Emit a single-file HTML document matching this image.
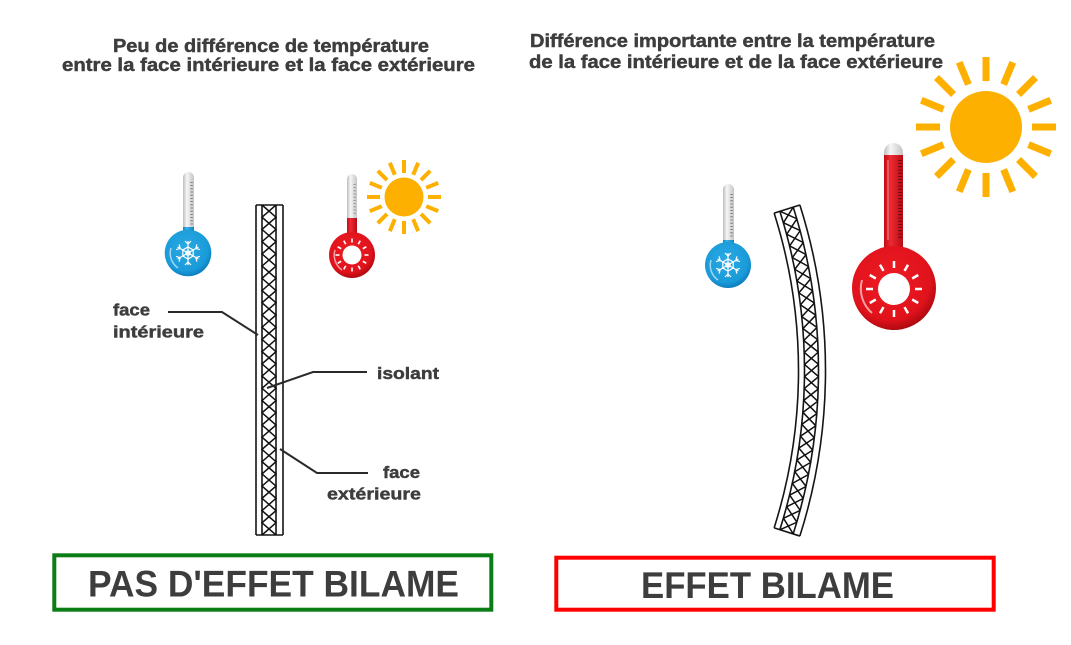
<!DOCTYPE html>
<html><head><meta charset="utf-8"><style>
html,body{margin:0;padding:0;background:#fff;}
svg{display:block;}
text{font-family:"Liberation Sans",sans-serif;font-weight:bold;fill:#3d3d3d;}
.h{stroke:#3d3d3d;stroke-width:0.45;}
</style></head><body>
<svg width="1071" height="645" viewBox="0 0 1071 645" xmlns="http://www.w3.org/2000/svg">
<defs>
<linearGradient id="tubeG" x1="0" x2="1" y1="0" y2="0"><stop offset="0" stop-color="#bcbcbc"/><stop offset="0.35" stop-color="#f6f6f6"/><stop offset="1" stop-color="#c4c4c4"/></linearGradient>
<linearGradient id="tubeR" x1="0" x2="1" y1="0" y2="0"><stop offset="0" stop-color="#c20d16"/><stop offset="0.35" stop-color="#ee2a33"/><stop offset="1" stop-color="#b80c14"/></linearGradient>
<linearGradient id="tubeB" x1="0" x2="1" y1="0" y2="0"><stop offset="0" stop-color="#0f88c8"/><stop offset="0.35" stop-color="#3ab0e6"/><stop offset="1" stop-color="#0d83c3"/></linearGradient>
<radialGradient id="bulbR" cx="0.45" cy="0.4" r="0.6"><stop offset="0" stop-color="#ee1c24"/><stop offset="0.8" stop-color="#e0121b"/><stop offset="1" stop-color="#b00a12"/></radialGradient>
<radialGradient id="bulbB" cx="0.45" cy="0.4" r="0.6"><stop offset="0" stop-color="#2aa9e2"/><stop offset="0.8" stop-color="#1a9bd9"/><stop offset="1" stop-color="#0c7fbf"/></radialGradient>
<path id="cell" d="M804.5,364.43 L818.5,376.57 M818.5,364.43 L804.5,376.57" stroke="#111" stroke-width="1.5" fill="none"/>
<g id="snow" stroke="#fff" stroke-width="1.2" fill="none">
<path d="M0,-12 V12 M-10.4,-6 L10.4,6 M-10.4,6 L10.4,-6"/>
<path d="M-3,-12 L0,-9 L3,-12 M-3,12 L0,9 L3,12 M-11.9,-3.4 L-7.8,-4.5 L-8.9,-8.6 M11.9,3.4 L7.8,4.5 L8.9,8.6 M-11.9,3.4 L-7.8,4.5 L-8.9,8.6 M11.9,-3.4 L7.8,-4.5 L8.9,-8.6"/>
<path d="M0,-6 L5.2,-3 L5.2,3 L0,6 L-5.2,3 L-5.2,-3 Z"/>
<circle cx="0" cy="0" r="2.2"/>
</g>
</defs>

<!-- Titles -->
<text class="h" x="113" y="52" font-size="18.5" textLength="316" lengthAdjust="spacingAndGlyphs">Peu de différence de température</text>
<text class="h" x="62" y="71" font-size="18.5" textLength="413" lengthAdjust="spacingAndGlyphs">entre la face intérieure et la face extérieure</text>
<text class="h" x="530" y="47" font-size="18.5" textLength="405" lengthAdjust="spacingAndGlyphs">Différence importante entre la température</text>
<text class="h" x="529" y="68" font-size="18.5" textLength="414" lengthAdjust="spacingAndGlyphs">de la face intérieure et de la face extérieure</text>

<!-- Left blue thermometer -->
<rect x="183" y="172" width="11" height="70" rx="5.5" fill="url(#tubeG)"/>
<rect x="183" y="227" width="11" height="15" fill="url(#tubeB)"/>
<line x1="191.5" y1="182" x2="191.5" y2="226" stroke="#666" stroke-width="2.5" stroke-dasharray="0.8 2.4"/>
<circle cx="188" cy="253" r="23.3" fill="url(#bulbB)"/>
<path d="M171,248 A18,18 0 0 0 178,268" stroke="#fff" stroke-opacity="0.6" stroke-width="1.5" fill="none"/>
<use href="#snow" transform="translate(188 253)"/>

<!-- Left red thermometer -->
<rect x="347" y="174" width="10" height="65" rx="5" fill="url(#tubeG)"/>
<rect x="347" y="218" width="10" height="22" fill="url(#tubeR)"/>
<line x1="354.5" y1="184" x2="354.5" y2="216" stroke="#777" stroke-width="2" stroke-dasharray="0.8 2.4"/>
<circle cx="352" cy="255" r="23" fill="url(#bulbR)"/>
<path d="M335,250 A18,18 0 0 0 342,270" stroke="#fff" stroke-opacity="0.6" stroke-width="1.5" fill="none"/>
<circle cx="352" cy="255" r="9.5" fill="#fff"/>
<g stroke="#fff" stroke-width="1.6">
<line x1="352" y1="242.5" x2="352" y2="238.5" transform="rotate(0 352 255)"/>
<line x1="352" y1="242.5" x2="352" y2="238.5" transform="rotate(30 352 255)"/>
<line x1="352" y1="242.5" x2="352" y2="238.5" transform="rotate(60 352 255)"/>
<line x1="352" y1="242.5" x2="352" y2="238.5" transform="rotate(90 352 255)"/>
<line x1="352" y1="242.5" x2="352" y2="238.5" transform="rotate(120 352 255)"/>
<line x1="352" y1="242.5" x2="352" y2="238.5" transform="rotate(150 352 255)"/>
<line x1="352" y1="242.5" x2="352" y2="238.5" transform="rotate(180 352 255)"/>
<line x1="352" y1="242.5" x2="352" y2="238.5" transform="rotate(210 352 255)"/>
<line x1="352" y1="242.5" x2="352" y2="238.5" transform="rotate(240 352 255)"/>
<line x1="352" y1="242.5" x2="352" y2="238.5" transform="rotate(270 352 255)"/>
<line x1="352" y1="242.5" x2="352" y2="238.5" transform="rotate(300 352 255)"/>
<line x1="352" y1="242.5" x2="352" y2="238.5" transform="rotate(330 352 255)"/>
</g>

<!-- Small sun -->
<g fill="#fdb000" stroke="#fdb000">
<circle cx="404" cy="197" r="19.5" stroke="none"/>
<g stroke-width="4">
<line x1="404" y1="173" x2="404" y2="160" transform="rotate(0 404 197)"/>
<line x1="404" y1="173" x2="404" y2="160" transform="rotate(22.5 404 197)"/>
<line x1="404" y1="173" x2="404" y2="160" transform="rotate(45 404 197)"/>
<line x1="404" y1="173" x2="404" y2="160" transform="rotate(67.5 404 197)"/>
<line x1="404" y1="173" x2="404" y2="160" transform="rotate(90 404 197)"/>
<line x1="404" y1="173" x2="404" y2="160" transform="rotate(112.5 404 197)"/>
<line x1="404" y1="173" x2="404" y2="160" transform="rotate(135 404 197)"/>
<line x1="404" y1="173" x2="404" y2="160" transform="rotate(157.5 404 197)"/>
<line x1="404" y1="173" x2="404" y2="160" transform="rotate(180 404 197)"/>
<line x1="404" y1="173" x2="404" y2="160" transform="rotate(202.5 404 197)"/>
<line x1="404" y1="173" x2="404" y2="160" transform="rotate(225 404 197)"/>
<line x1="404" y1="173" x2="404" y2="160" transform="rotate(247.5 404 197)"/>
<line x1="404" y1="173" x2="404" y2="160" transform="rotate(270 404 197)"/>
<line x1="404" y1="173" x2="404" y2="160" transform="rotate(292.5 404 197)"/>
<line x1="404" y1="173" x2="404" y2="160" transform="rotate(315 404 197)"/>
<line x1="404" y1="173" x2="404" y2="160" transform="rotate(337.5 404 197)"/>
</g></g>

<!-- Straight panel -->
<g stroke="#151515" stroke-width="1.6" fill="none">
<path d="M256,205 V535 M262,205 V535 M276,205 V535 M283,205 V535 M256,205 H283 M256,535 H283"/>
</g>
<g stroke="#111" stroke-width="1.5" fill="none">
<polyline points="262,205 276,217.2 262,229.4 276,241.7 262,253.9 276,266.1 262,278.3 276,290.6 262,302.8 276,315 262,327.2 276,339.4 262,351.7 276,363.9 262,376.1 276,388.3 262,400.6 276,412.8 262,425 276,437.2 262,449.4 276,461.7 262,473.9 276,486.1 262,498.3 276,510.6 262,522.8 276,535"/>
<polyline points="276,205 262,217.2 276,229.4 262,241.7 276,253.9 262,266.1 276,278.3 262,290.6 276,302.8 262,315 276,327.2 262,339.4 276,351.7 262,363.9 276,376.1 262,388.3 276,400.6 262,412.8 276,425 262,437.2 276,449.4 262,461.7 276,473.9 262,486.1 276,498.3 262,510.6 276,522.8 262,535"/>
</g>

<!-- Leader lines -->
<g stroke="#2a2a2a" stroke-width="2" fill="none">
<polyline points="168,312 222,312 258,335"/>
<polyline points="367,372 313,372 267,388"/>
<polyline points="368,473 317,473 280,449"/>
</g>

<!-- Labels -->
<text class="h" x="113" y="315.5" font-size="17" textLength="37" lengthAdjust="spacingAndGlyphs">face</text>
<text class="h" x="113" y="337.5" font-size="17" textLength="91" lengthAdjust="spacingAndGlyphs">intérieure</text>
<text class="h" x="377" y="379" font-size="17" textLength="62" lengthAdjust="spacingAndGlyphs">isolant</text>
<text class="h" x="383" y="478" font-size="17" textLength="37" lengthAdjust="spacingAndGlyphs">face</text>
<text class="h" x="327" y="499.5" font-size="17" textLength="94" lengthAdjust="spacingAndGlyphs">extérieure</text>

<!-- Right blue thermometer -->
<rect x="723" y="184" width="11" height="70" rx="5.5" fill="url(#tubeG)"/>
<rect x="723" y="240" width="11" height="15" fill="url(#tubeB)"/>
<line x1="731.5" y1="194" x2="731.5" y2="238" stroke="#666" stroke-width="2.5" stroke-dasharray="0.8 2.4"/>
<circle cx="728" cy="265" r="23" fill="url(#bulbB)"/>
<path d="M711,260 A18,18 0 0 0 718,280" stroke="#fff" stroke-opacity="0.6" stroke-width="1.5" fill="none"/>
<use href="#snow" transform="translate(728 265)"/>

<!-- Curved panel -->
<g stroke="#151515" stroke-width="1.6" fill="none">
<path d="M774.14,213.12 A520.5,520.5 0 0 1 774.14,527.88"/>
<path d="M779.85,211.3 A526.5,526.5 0 0 1 779.85,529.7"/>
<path d="M793.2,207.07 A540.5,540.5 0 0 1 793.2,533.93"/>
<path d="M799.87,204.95 A547.5,547.5 0 0 1 799.87,536.05"/>
<path d="M774.14,213.12 L799.87,204.95 M774.14,527.88 L799.87,536.05"/>
</g>
<use href="#cell" transform="rotate(-16.948 278 370.5)"/>
<use href="#cell" transform="rotate(-15.644 278 370.5)"/>
<use href="#cell" transform="rotate(-14.341 278 370.5)"/>
<use href="#cell" transform="rotate(-13.037 278 370.5)"/>
<use href="#cell" transform="rotate(-11.733 278 370.5)"/>
<use href="#cell" transform="rotate(-10.430 278 370.5)"/>
<use href="#cell" transform="rotate(-9.126 278 370.5)"/>
<use href="#cell" transform="rotate(-7.822 278 370.5)"/>
<use href="#cell" transform="rotate(-6.518 278 370.5)"/>
<use href="#cell" transform="rotate(-5.215 278 370.5)"/>
<use href="#cell" transform="rotate(-3.911 278 370.5)"/>
<use href="#cell" transform="rotate(-2.607 278 370.5)"/>
<use href="#cell" transform="rotate(-1.304 278 370.5)"/>
<use href="#cell" transform="rotate(0 278 370.5)"/>
<use href="#cell" transform="rotate(1.304 278 370.5)"/>
<use href="#cell" transform="rotate(2.607 278 370.5)"/>
<use href="#cell" transform="rotate(3.911 278 370.5)"/>
<use href="#cell" transform="rotate(5.215 278 370.5)"/>
<use href="#cell" transform="rotate(6.518 278 370.5)"/>
<use href="#cell" transform="rotate(7.822 278 370.5)"/>
<use href="#cell" transform="rotate(9.126 278 370.5)"/>
<use href="#cell" transform="rotate(10.430 278 370.5)"/>
<use href="#cell" transform="rotate(11.733 278 370.5)"/>
<use href="#cell" transform="rotate(13.037 278 370.5)"/>
<use href="#cell" transform="rotate(14.341 278 370.5)"/>
<use href="#cell" transform="rotate(15.644 278 370.5)"/>
<use href="#cell" transform="rotate(16.948 278 370.5)"/>

<!-- Big red thermometer -->
<rect x="884" y="143" width="19" height="115" rx="9.5" fill="url(#tubeG)"/>
<rect x="884" y="155" width="19" height="103" fill="url(#tubeR)"/>
<line x1="888" y1="160" x2="888" y2="240" stroke="#fff" stroke-opacity="0.35" stroke-width="1.5"/>
<line x1="900" y1="160" x2="900" y2="238" stroke="#5a0a0a" stroke-width="4" stroke-dasharray="0.8 2.4"/>
<circle cx="894" cy="288" r="42" fill="url(#bulbR)"/>
<path d="M862,280 A32,32 0 0 0 872,313" stroke="#fff" stroke-opacity="0.6" stroke-width="2" fill="none"/>
<circle cx="894" cy="289" r="16" fill="#fff"/>
<g stroke="#fff" stroke-width="2.5">
<line x1="894" y1="268" x2="894" y2="261" transform="rotate(0 894 289)"/>
<line x1="894" y1="268" x2="894" y2="261" transform="rotate(30 894 289)"/>
<line x1="894" y1="268" x2="894" y2="261" transform="rotate(60 894 289)"/>
<line x1="894" y1="268" x2="894" y2="261" transform="rotate(90 894 289)"/>
<line x1="894" y1="268" x2="894" y2="261" transform="rotate(120 894 289)"/>
<line x1="894" y1="268" x2="894" y2="261" transform="rotate(150 894 289)"/>
<line x1="894" y1="268" x2="894" y2="261" transform="rotate(180 894 289)"/>
<line x1="894" y1="268" x2="894" y2="261" transform="rotate(210 894 289)"/>
<line x1="894" y1="268" x2="894" y2="261" transform="rotate(240 894 289)"/>
<line x1="894" y1="268" x2="894" y2="261" transform="rotate(270 894 289)"/>
<line x1="894" y1="268" x2="894" y2="261" transform="rotate(300 894 289)"/>
<line x1="894" y1="268" x2="894" y2="261" transform="rotate(330 894 289)"/>
</g>

<!-- Big sun -->
<g fill="#fdb000" stroke="#fdb000">
<circle cx="986" cy="127" r="36" stroke="none"/>
<g stroke-width="7">
<line x1="986" y1="81" x2="986" y2="57" transform="rotate(0 986 127)"/>
<line x1="986" y1="81" x2="986" y2="57" transform="rotate(22.5 986 127)"/>
<line x1="986" y1="81" x2="986" y2="57" transform="rotate(45 986 127)"/>
<line x1="986" y1="81" x2="986" y2="57" transform="rotate(67.5 986 127)"/>
<line x1="986" y1="81" x2="986" y2="57" transform="rotate(90 986 127)"/>
<line x1="986" y1="81" x2="986" y2="57" transform="rotate(112.5 986 127)"/>
<line x1="986" y1="81" x2="986" y2="57" transform="rotate(135 986 127)"/>
<line x1="986" y1="81" x2="986" y2="57" transform="rotate(157.5 986 127)"/>
<line x1="986" y1="81" x2="986" y2="57" transform="rotate(180 986 127)"/>
<line x1="986" y1="81" x2="986" y2="57" transform="rotate(202.5 986 127)"/>
<line x1="986" y1="81" x2="986" y2="57" transform="rotate(225 986 127)"/>
<line x1="986" y1="81" x2="986" y2="57" transform="rotate(247.5 986 127)"/>
<line x1="986" y1="81" x2="986" y2="57" transform="rotate(270 986 127)"/>
<line x1="986" y1="81" x2="986" y2="57" transform="rotate(292.5 986 127)"/>
<line x1="986" y1="81" x2="986" y2="57" transform="rotate(315 986 127)"/>
<line x1="986" y1="81" x2="986" y2="57" transform="rotate(337.5 986 127)"/>
</g></g>

<!-- Bottom boxes -->
<rect x="54.3" y="555.3" width="437" height="54.4" fill="#fff" stroke="#0b7d16" stroke-width="4"/>
<text x="88" y="596.5" font-size="37" textLength="371" lengthAdjust="spacingAndGlyphs" fill="#404040">PAS D'EFFET BILAME</text>
<rect x="556.3" y="557.7" width="437.4" height="52" fill="#fff" stroke="#ff0000" stroke-width="4"/>
<text x="641" y="598" font-size="37" textLength="253" lengthAdjust="spacingAndGlyphs" fill="#404040">EFFET BILAME</text>
</svg>
</body></html>
